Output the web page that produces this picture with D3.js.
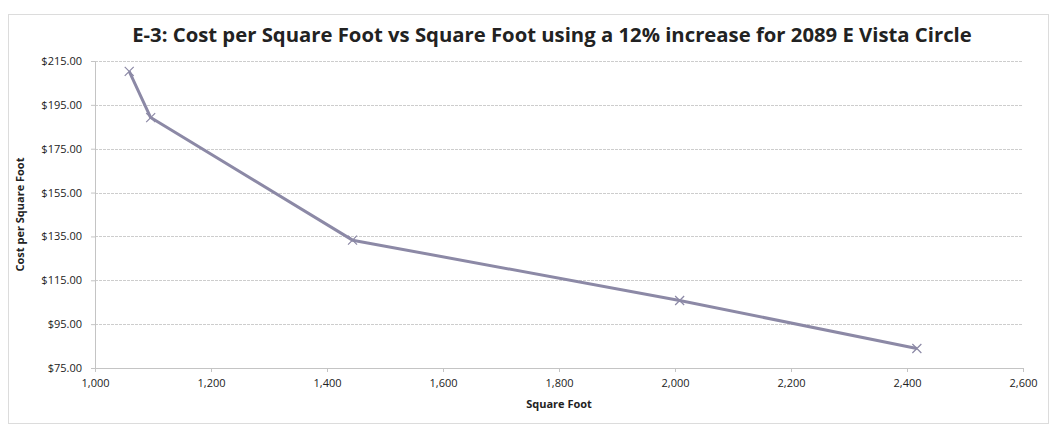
<!DOCTYPE html>
<html>
<head>
<meta charset="utf-8">
<script src="https://cdn.jsdelivr.net/npm/d3@7"></script>
<style>
  body { margin: 0; background: #fff; }
  text { font-family: "Open Sans", "DejaVu Sans", sans-serif; fill: #222; }
</style>
</head>
<body>
<svg id="chart" width="1052" height="425"></svg>
<script>
// data
const squareFeet = [1059, 1096, 1444, 2008, 2417];
const costPerSqFt = [210.3, 189.2, 133.3, 105.8, 83.9];
const xTicks = [1000, 1200, 1400, 1600, 1800, 2000, 2200, 2400, 2600];
const yTicks = [75, 95, 115, 135, 155, 175, 195, 215];

const svg = d3.select('#chart');

const margin = { top: 61, right: 29, bottom: 57, left: 95 },
  width = 1052 - margin.left - margin.right,
  height = 425 - margin.top - margin.bottom;

// faint outer frame like the scanned chart border
svg.append('rect')
  .attr('x', 8.5).attr('y', 14.5)
  .attr('width', 1040).attr('height', 409)
  .attr('fill', 'none')
  .attr('stroke', '#dcdcdc');

svg.append('text')
  .attr('x', 552)
  .attr('y', 42)
  .attr('text-anchor', 'middle')
  .style('font-size', '20.3px')
  .style('font-weight', 'bold')
  .text('E-3: Cost per Square Foot vs Square Foot using a 12% increase for 2089 E Vista Circle');

const x = d3.scaleLinear().domain([1000, 2600]).range([0, width]);
const y = d3.scaleLinear().domain([75, 215]).range([height, 0]);

const g = svg.append('g')
  .attr('transform', `translate(${margin.left},${margin.top})`);

// horizontal gridlines
g.append('g')
  .selectAll('line')
  .data(yTicks)
  .enter().append('line')
  .attr('x1', 0)
  .attr('x2', width)
  .attr('y1', d => Math.round(y(d)) + 0.5)
  .attr('y2', d => Math.round(y(d)) + 0.5)
  .attr('stroke', '#cdcdcd')
  .attr('stroke-dasharray', '3,1');

// y axis
const yAxis = g.append('g')
  .call(d3.axisLeft(y).tickValues(yTicks).tickFormat(d => '$' + d3.format('.2f')(d)).tickSize(4).tickPadding(9));
yAxis.select('.domain').attr('stroke', '#c4c4c4');
yAxis.selectAll('.tick line').attr('stroke', '#c4c4c4');
yAxis.selectAll('text').style('font-size', '11px').attr('fill', '#222');

// x axis
const xAxis = g.append('g')
  .attr('transform', `translate(0,${height})`)
  .call(d3.axisBottom(x).tickValues(xTicks).tickFormat(d3.format(',')).tickSize(4).tickPadding(7));
xAxis.select('.domain').attr('stroke', '#c4c4c4');
xAxis.selectAll('.tick line').attr('stroke', '#c4c4c4');
xAxis.selectAll('text').style('font-size', '11px').attr('fill', '#222');

// axis titles
svg.append('text')
  .attr('x', margin.left + width / 2)
  .attr('y', 408)
  .attr('text-anchor', 'middle')
  .style('font-size', '11px')
  .style('font-weight', 'bold')
  .text('Square Foot');

svg.append('text')
  .attr('transform', `translate(24,${margin.top + height / 2}) rotate(-90)`)
  .attr('text-anchor', 'middle')
  .style('font-size', '11px')
  .style('font-weight', 'bold')
  .text('Cost per Square Foot');

// line
const points = squareFeet.map((s, i) => [s, costPerSqFt[i]]);
g.append('path')
  .datum(points)
  .attr('fill', 'none')
  .attr('stroke', '#8c89a6')
  .attr('stroke-width', 3)
  .attr('stroke-linejoin', 'round')
  .attr('d', d3.line().x(d => x(d[0])).y(d => y(d[1])));

// x markers
const m = 4.5;
g.selectAll('.marker')
  .data(points)
  .enter().append('path')
  .attr('class', 'marker')
  .attr('d', d => {
    const cx = x(d[0]), cy = y(d[1]);
    return `M${cx - m},${cy - m}L${cx + m},${cy + m}M${cx - m},${cy + m}L${cx + m},${cy - m}`;
  })
  .attr('stroke', '#8c89a6')
  .attr('stroke-width', 1.2);
</script>
</body>
</html>
